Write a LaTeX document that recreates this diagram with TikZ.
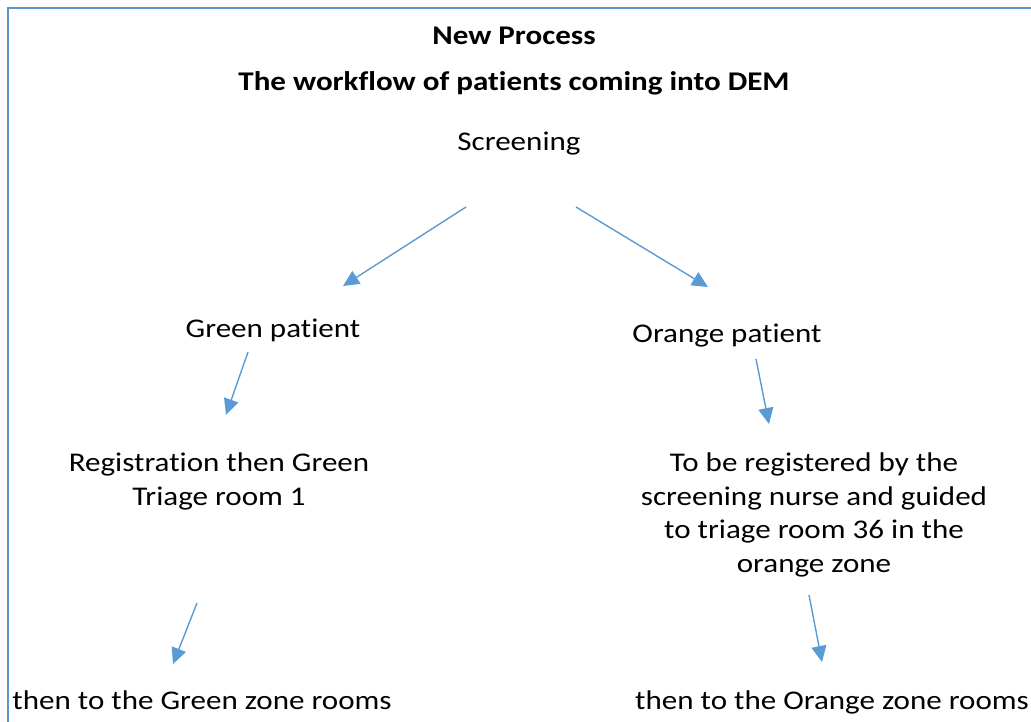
\documentclass[tikz,border=0pt]{standalone}
\usepackage{fontspec}
\setmainfont{Carlito}[FakeStretch=1.15,Ligatures=NoCommon]
\usetikzlibrary{arrows.meta}
\usetikzlibrary{positioning}
\definecolor{arrowblue}{RGB}{91,155,213}
\definecolor{frameblue}{RGB}{91,150,210}

\begin{document}
\begin{tikzpicture}[x=1pt,y=-1pt]
\tikzstyle{txt}=[font=\fontsize{27}{33.5}\selectfont,align=center,inner sep=0pt,anchor=base]
\tikzstyle{ttl}=[txt,font=\fontsize{27}{33.5}\selectfont\bfseries]
\tikzstyle{flow}=[draw=arrowblue,line width=1.4pt,-{Triangle[length=16pt,width=15pt]}]
\useasboundingbox (0,0) rectangle (1031,721);
\draw[frameblue,line width=2.8pt] (8,730) -- (8,8) -- (1040,8);

\node [ttl] (np) at (514,44) {New Process};
\node [ttl] (wf) at (514,90) {The workflow of patients coming into DEM};
\node [txt] (scr) at (519,150) {Screening};
\node [txt] (gp) at (273,337) {Green patient};
\node [txt] (op) at (727,342) {Orange patient};
% base anchor sits on the last line
\node [txt] (reg) at (219,505) {Registration then Green\\Triage room 1};
\node [txt] (treg) at (814,572) {To be registered by the\\screening nurse and guided\\to triage room 36 in the\\orange zone};
\node [txt] (gz) at (202,709) {then to the Green zone rooms};
\node [txt] (oz) at (832,709) {then to the Orange zone rooms};

\coordinate (s1) at (466,207);
\coordinate (g1) at (343,286);
\coordinate (s2) at (576,207);
\coordinate (o1) at (708,287);
\coordinate (g2) at (248,352);
\coordinate (g3) at (226,415);
\coordinate (o2) at (756,359);
\coordinate (o3) at (769,424);
\coordinate (g4) at (197,603);
\coordinate (g5) at (173,664);
\coordinate (o4) at (809,595);
\coordinate (o5) at (822,662);

\draw[flow] (s1) -- (g1);
\draw[flow] (s2) -- (o1);
\draw[flow] (g2) -- (g3);
\draw[flow] (o2) -- (o3);
\draw[flow] (g4) -- (g5);
\draw[flow] (o4) -- (o5);
\end{tikzpicture}
\end{document}
